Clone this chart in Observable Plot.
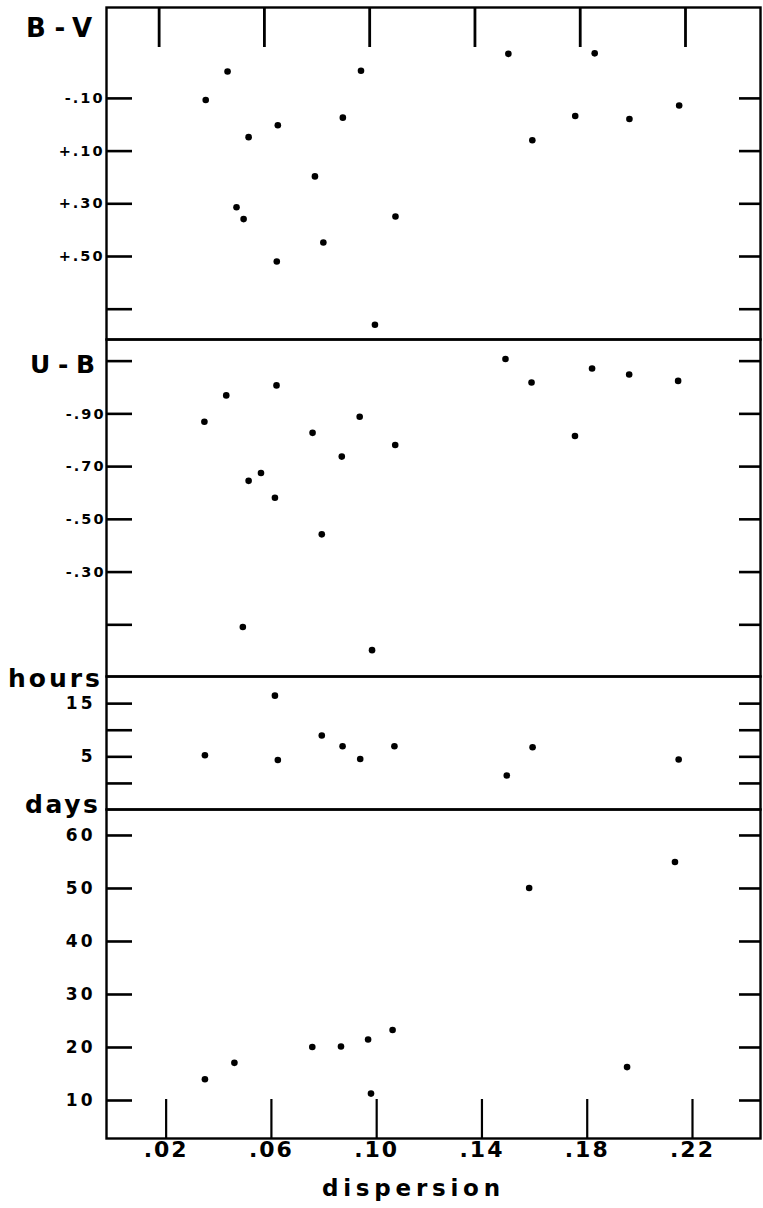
<!DOCTYPE html>
<html>
<head>
<meta charset="utf-8">
<script src="https://cdn.jsdelivr.net/npm/d3@7"></script>
<script src="https://cdn.jsdelivr.net/npm/@observablehq/plot@0.6"></script>
<style>
  html, body { margin: 0; padding: 0; background: #fff; }
  #chart { position: relative; width: 763px; height: 1208px; overflow: hidden; }
  #chart svg.panel { display: block; }
  #chart svg.panel text { font-weight: bold; }
  #labels { position: absolute; left: 0; top: 0; pointer-events: none; }
</style>
</head>
<body>
<div id="chart"></div>
<script>
// ---- data ----
const xTicks = [0.02, 0.06, 0.10, 0.14, 0.18, 0.22];

const bvDispersion = [0.0377, 0.0460, 0.0540, 0.0651, 0.0494, 0.0521, 0.0647, 0.0792, 0.0824, 0.0898, 0.0967, 0.1098, 0.1020, 0.1527, 0.1618, 0.1781, 0.1855, 0.1987, 0.2176];
const bvValues = [-0.094, -0.202, 0.047, 0.002, 0.313, 0.358, 0.519, 0.196, 0.447, -0.027, -0.205, 0.348, 0.759, -0.269, 0.059, -0.033, -0.271, -0.022, -0.073];
const bvTicks = [-0.10, 0.10, 0.30, 0.50, 0.70];
const bvTickLabels = ["-.10", "+.10", "+.30", "+.50", ""];

const ubDispersion = [0.0372, 0.0455, 0.0646, 0.0540, 0.0587, 0.0640, 0.0783, 0.0894, 0.0962, 0.1097, 0.0818, 0.0518, 0.1009, 0.1516, 0.1615, 0.1780, 0.1845, 0.1986, 0.2172];
const ubValues = [-0.870, -0.970, -1.008, -0.646, -0.676, -0.582, -0.828, -0.738, -0.889, -0.782, -0.443, -0.092, -0.004, -1.108, -1.019, -0.816, -1.072, -1.049, -1.025];
const ubTicks = [-1.10, -0.90, -0.70, -0.50, -0.30, -0.10];
const ubTickLabels = ["", "-.90", "-.70", "-.50", "-.30", ""];

const hoursDispersion = [0.0374, 0.0640, 0.0651, 0.0818, 0.0897, 0.0964, 0.1094, 0.1521, 0.1619, 0.2174];
const hoursValues = [5.3, 16.5, 4.4, 9.0, 7.0, 4.6, 7.0, 1.5, 6.8, 4.5];
const hoursTicks = [0, 5, 10, 15];
const hoursTickLabels = ["", "5", "", "15"];

const daysDispersion = [0.0374, 0.0486, 0.0782, 0.0891, 0.0994, 0.1005, 0.1087, 0.1606, 0.1978, 0.2160];
const daysValues = [14.0, 17.1, 20.1, 20.2, 21.5, 11.3, 23.3, 50.1, 16.3, 55.0];
const daysTicks = [10, 20, 30, 40, 50, 60];
const daysTickLabels = ["10", "20", "30", "40", "50", "60"];

const panelTitles = ["B-V", "U-B", "hours", "days"];
const xTitle = "dispersion";

// ---- layout ----
const W = 763, ML = 106, MR = 3;
const FONT = "'DejaVu Sans', 'Open Sans', sans-serif";
const xDomain = [0, 0.2485];
const fmtX = d => d.toFixed(2).replace(/^0/, "");
const labelMap = (ticks, labels) => new Map(ticks.map((t, i) => [t, labels[i]]));
const rows = (xs, ys) => xs.map((x, i) => ({x, y: ys[i]}));

function yAxes(ticks, labels, fontSize, pad) {
  const m = labelMap(ticks, labels);
  return [
    Plot.axisY(ticks, {anchor: "left", tickSize: -26, tickPadding: pad, strokeWidth: 2.6,
      tickFormat: d => m.get(d), label: null, fontSize, fontWeight: "bold"}),
    Plot.axisY(ticks, {anchor: "right", tickSize: -22, strokeWidth: 2.6,
      tickFormat: () => "", label: null})
  ];
}

function basePlot(opts) {
  return {
    width: W, marginLeft: ML, marginRight: MR,
    style: {fontFamily: FONT, fontWeight: "bold", background: "white", color: "black", overflow: "visible"},
    ...opts
  };
}

const DOT_R = 3.3;
const chart = document.getElementById("chart");

// Panel 1: B-V
const p1 = Plot.plot(basePlot({
  height: 339, marginTop: 7, marginBottom: 0,
  x: {domain: xDomain},
  y: {domain: [-0.445, 0.815], reverse: true},
  marks: [
    Plot.axisX(xTicks, {anchor: "top", tickSize: -39, strokeWidth: 2.8, tickFormat: () => "", label: null}),
    ...yAxes(bvTicks, bvTickLabels, 14.5, 28),
    Plot.dot(rows(bvDispersion, bvValues), {x: "x", y: "y", r: DOT_R, fill: "black"}),
    Plot.frame({stroke: "black", strokeWidth: 2.4})
  ]
}));

// Panel 2: U-B
const p2 = Plot.plot(basePlot({
  height: 337, marginTop: 0, marginBottom: 0,
  x: {domain: xDomain, axis: null},
  y: {domain: [-1.182, 0.096], reverse: true},
  marks: [
    ...yAxes(ubTicks, ubTickLabels, 14.5, 27),
    Plot.dot(rows(ubDispersion, ubValues), {x: "x", y: "y", r: DOT_R, fill: "black"}),
    Plot.frame({stroke: "black", strokeWidth: 2.4})
  ]
}));

// Panel 3: hours
const p3 = Plot.plot(basePlot({
  height: 133, marginTop: 0, marginBottom: 0,
  x: {domain: xDomain, axis: null},
  y: {domain: [-4.9, 20.1]},
  marks: [
    ...yAxes(hoursTicks, hoursTickLabels, 17, 37),
    Plot.dot(rows(hoursDispersion, hoursValues), {x: "x", y: "y", r: DOT_R, fill: "black"}),
    Plot.frame({stroke: "black", strokeWidth: 2.4})
  ]
}));

// Panel 4: days
const p4 = Plot.plot(basePlot({
  height: 399, marginTop: 0, marginBottom: 70,
  x: {domain: xDomain},
  y: {domain: [2.83, 64.9]},
  marks: [
    Plot.axisX(xTicks, {anchor: "bottom", tickSize: -39, tickPadding: 42, strokeWidth: 2.2,
      tickFormat: fmtX, label: null, fontSize: 22, fontWeight: "bold", dx: 7}),
    ...yAxes(daysTicks, daysTickLabels, 17, 37),
    Plot.dot(rows(daysDispersion, daysValues), {x: "x", y: "y", r: DOT_R, fill: "black"}),
    Plot.frame({stroke: "black", strokeWidth: 2.4})
  ]
}));

[p1, p2, p3, p4].forEach(p => { p.classList.add("panel"); chart.appendChild(p); });

// letter spacing for tick labels
[p1, p2].forEach(p => p.querySelectorAll("g[aria-label='y-axis tick label'] text").forEach(t => t.setAttribute("letter-spacing", "2")));
[p3, p4].forEach(p => p.querySelectorAll("g[aria-label='y-axis tick label'] text").forEach(t => t.setAttribute("letter-spacing", "3")));
p4.querySelectorAll("g[aria-label='x-axis tick label'] text").forEach(t => t.setAttribute("letter-spacing", "2"));

// ---- panel titles and x title ----
const ns = "http://www.w3.org/2000/svg";
const ov = document.createElementNS(ns, "svg");
ov.setAttribute("id", "labels");
ov.setAttribute("width", W);
ov.setAttribute("height", 1208);
const titleSpecs = [
  {text: panelTitles[0], x: 26, y: 37, size: 26, len: 66},
  {text: panelTitles[1], x: 30, y: 373, size: 25, len: 65},
  {text: panelTitles[2], x: 8, y: 687, size: 25, len: 92},
  {text: panelTitles[3], x: 25, y: 813, size: 25, len: 73},
  {text: xTitle, x: 322, y: 1196, size: 23, len: 178}
];
titleSpecs.forEach(s => {
  const t = document.createElementNS(ns, "text");
  t.textContent = s.text;
  t.setAttribute("x", s.x);
  t.setAttribute("y", s.y);
  t.setAttribute("font-family", FONT);
  t.setAttribute("font-weight", "bold");
  t.setAttribute("font-size", s.size);
  t.setAttribute("textLength", s.len);
  t.setAttribute("lengthAdjust", "spacing");
  t.setAttribute("fill", "black");
  ov.appendChild(t);
});
chart.appendChild(ov);
</script>
</body>
</html>
